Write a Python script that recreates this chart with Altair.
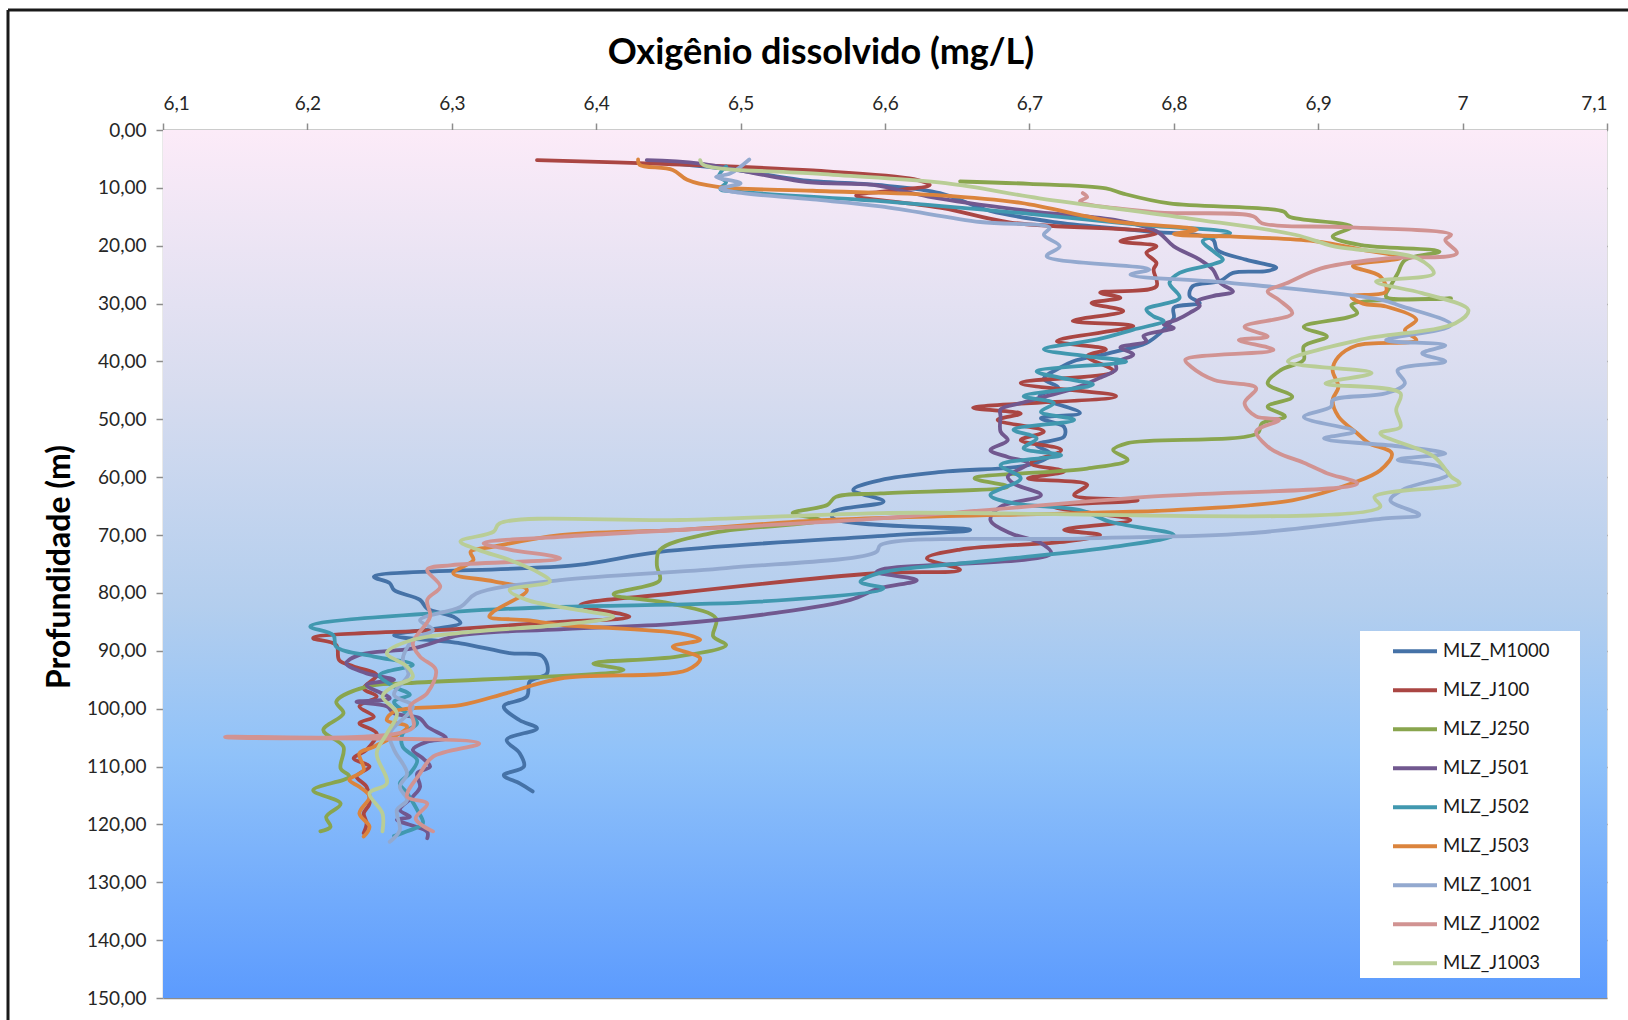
import altair as alt
import pandas as pd

# Dissolved-oxygen profiles: (depth in m, DO in mg/L), top to bottom
MLZ_M1000 = [
    (5.5, 6.440), (7.0, 6.500), (8.6, 6.541), (9.6, 6.600), (10.9, 6.638), (14.0, 6.673),
    (16.0, 6.720), (17.5, 6.781), (18.9, 6.827), (20.7, 6.830), (22.4, 6.850), (23.8, 6.871),
    (24.4, 6.864), (24.7, 6.841), (26.1, 6.832), (27.0, 6.813), (28.7, 6.811), (29.9, 6.818),
    (30.7, 6.800), (32.5, 6.800), (33.9, 6.795), (35.2, 6.790), (36.8, 6.781), (38.5, 6.756),
    (40.0, 6.730), (41.1, 6.721), (43.0, 6.710), (44.5, 6.720), (46.0, 6.707), (48.9, 6.735),
    (49.8, 6.708), (51.3, 6.724), (53.0, 6.724), (54.4, 6.705), (56.0, 6.715), (57.9, 6.699),
    (59.0, 6.643), (60.5, 6.597), (62.2, 6.578), (64.2, 6.599), (66.0, 6.564), (67.1, 6.564),
    (69.1, 6.659), (70.0, 6.606), (72.9, 6.444), (75.2, 6.386), (77.2, 6.246), (78.3, 6.257),
    (79.5, 6.260), (81.2, 6.278), (82.7, 6.283), (84.1, 6.301), (85.2, 6.306), (87.3, 6.260),
    (88.7, 6.306), (90.4, 6.340), (91.0, 6.363), (93.9, 6.366), (95.3, 6.354), (97.9, 6.352),
    (99.6, 6.336), (102.0, 6.347), (103.4, 6.359), (105.4, 6.338), (107.7, 6.347), (110.0, 6.350),
    (111.5, 6.336), (112.9, 6.347), (114.3, 6.356),
]
MLZ_J100 = [
    (5.2, 6.359), (5.9, 6.450), (7.0, 6.550), (8.5, 6.620), (9.5, 6.631), (10.6, 6.600),
    (11.3, 6.580), (13.5, 6.640), (16.0, 6.687), (17.8, 6.788), (19.2, 6.763), (20.1, 6.788),
    (21.2, 6.781), (23.0, 6.788), (24.1, 6.786), (27.0, 6.788), (28.1, 6.749), (29.0, 6.763),
    (29.9, 6.743), (31.3, 6.765), (33.0, 6.730), (33.9, 6.772), (36.5, 6.719), (37.9, 6.753),
    (39.1, 6.740), (41.7, 6.758), (43.7, 6.694), (46.0, 6.760), (48.0, 6.661), (49.0, 6.694),
    (50.1, 6.678), (52.1, 6.710), (53.6, 6.694), (55.3, 6.722), (57.6, 6.701), (59.0, 6.724),
    (60.2, 6.699), (61.3, 6.740), (63.1, 6.731), (64.0, 6.775), (65.1, 6.717), (67.4, 6.770),
    (69.1, 6.724), (70.0, 6.749), (71.1, 6.726), (72.5, 6.652), (74.0, 6.629), (76.0, 6.652),
    (76.6, 6.594), (80.1, 6.453), (82.1, 6.389), (84.1, 6.423), (85.0, 6.375), (86.3, 6.300),
    (87.8, 6.204), (89.0, 6.220), (91.6, 6.222), (92.7, 6.232), (94.2, 6.248), (96.5, 6.239),
    (97.9, 6.248), (99.6, 6.236), (101.4, 6.246), (102.5, 6.236), (104.3, 6.248), (107.1, 6.241),
    (108.6, 6.232), (110.0, 6.243), (111.7, 6.234), (113.5, 6.241), (116.4, 6.243), (118.1, 6.239),
    (119.8, 6.241), (121.5, 6.239),
]
MLZ_J250 = [
    (8.9, 6.652), (9.3, 6.700), (10.1, 6.753), (11.0, 6.765), (12.7, 6.797), (14.1, 6.876),
    (15.0, 6.880), (16.7, 6.923), (18.4, 6.910), (19.9, 6.930), (21.0, 6.984), (22.5, 6.960),
    (24.8, 6.955), (27.0, 6.950), (28.8, 6.947), (29.1, 6.992), (30.2, 6.923), (31.7, 6.927),
    (34.0, 6.890), (35.7, 6.906), (37.4, 6.890), (39.7, 6.890), (41.5, 6.874), (43.8, 6.865),
    (46.1, 6.882), (47.8, 6.865), (49.5, 6.877), (50.7, 6.861), (52.4, 6.858), (54.1, 6.768),
    (55.3, 6.758), (57.0, 6.768), (58.5, 6.740), (60.2, 6.662), (61.6, 6.685), (62.8, 6.597),
    (63.4, 6.566), (64.8, 6.560), (66.2, 6.536), (67.4, 6.555), (69.7, 6.479), (72.6, 6.444),
    (75.2, 6.442), (77.8, 6.444), (80.2, 6.412), (81.8, 6.451), (84.4, 6.483), (87.5, 6.481),
    (89.0, 6.490), (91.0, 6.456), (92.2, 6.398), (93.3, 6.419), (95.6, 6.269), (96.2, 6.241),
    (98.8, 6.220), (100.8, 6.225), (103.7, 6.211), (106.6, 6.225), (110.3, 6.223), (111.7, 6.229),
    (114.1, 6.204), (116.4, 6.223), (118.7, 6.213), (120.4, 6.216), (121.2, 6.209),
]
MLZ_J501 = [
    (5.2, 6.435), (5.8, 6.472), (9.0, 6.546), (9.5, 6.592), (11.5, 6.630), (14.0, 6.700),
    (15.5, 6.758), (17.5, 6.788), (20.1, 6.800), (22.4, 6.818), (24.1, 6.827), (26.4, 6.832),
    (27.9, 6.841), (28.7, 6.827), (29.6, 6.816), (30.4, 6.818), (31.6, 6.811), (32.8, 6.802),
    (33.6, 6.793), (34.2, 6.800), (35.6, 6.779), (36.5, 6.781), (37.6, 6.763), (38.8, 6.772),
    (40.2, 6.760), (41.4, 6.760), (42.8, 6.749), (44.3, 6.735), (46.0, 6.712), (47.2, 6.694),
    (48.3, 6.680), (49.5, 6.680), (52.1, 6.680), (53.6, 6.685), (55.3, 6.673), (56.5, 6.685),
    (57.6, 6.699), (59.9, 6.685), (61.1, 6.689), (63.1, 6.708), (65.1, 6.680), (67.4, 6.673),
    (69.7, 6.687), (71.4, 6.708), (73.2, 6.715), (75.8, 6.600), (76.4, 6.594), (77.8, 6.622),
    (79.2, 6.596), (81.2, 6.576), (83.5, 6.523), (85.3, 6.456), (86.3, 6.375), (87.3, 6.306),
    (89.6, 6.273), (90.7, 6.236), (92.2, 6.227), (93.9, 6.241), (95.0, 6.260), (95.9, 6.241),
    (98.2, 6.257), (98.8, 6.234), (99.6, 6.255), (100.8, 6.260), (101.7, 6.278), (103.1, 6.283),
    (105.1, 6.296), (105.7, 6.283), (107.1, 6.273), (108.6, 6.280), (110.0, 6.285), (111.2, 6.276),
    (113.5, 6.278), (115.2, 6.273), (117.5, 6.264), (118.7, 6.271), (119.2, 6.262), (121.3, 6.283),
    (122.4, 6.283),
]
MLZ_J502 = [
    (6.3, 6.490), (8.0, 6.485), (9.0, 6.490), (10.2, 6.486), (10.7, 6.500), (12.3, 6.597),
    (14.5, 6.700), (16.5, 6.780), (17.8, 6.839), (19.2, 6.820), (20.9, 6.827), (22.4, 6.834),
    (23.2, 6.827), (24.7, 6.804), (26.4, 6.797), (29.0, 6.804), (31.0, 6.781), (32.2, 6.786),
    (33.0, 6.793), (34.5, 6.772), (36.2, 6.747), (37.9, 6.710), (39.1, 6.740), (40.0, 6.767),
    (41.7, 6.705), (42.8, 6.721), (44.0, 6.744), (46.0, 6.696), (47.2, 6.717), (48.7, 6.708),
    (50.1, 6.731), (51.8, 6.689), (53.3, 6.705), (55.0, 6.696), (56.2, 6.722), (57.9, 6.680),
    (60.2, 6.694), (63.1, 6.673), (64.5, 6.689), (65.7, 6.735), (67.7, 6.756), (70.0, 6.800),
    (72.0, 6.759), (74.0, 6.689), (74.9, 6.652), (76.5, 6.597), (78.1, 6.583), (79.2, 6.599),
    (81.5, 6.513), (82.4, 6.375), (83.2, 6.306), (85.8, 6.202), (87.3, 6.218), (89.3, 6.220),
    (91.0, 6.246), (92.4, 6.273), (94.2, 6.250), (96.2, 6.260), (97.6, 6.271), (98.8, 6.260),
    (102.5, 6.276), (104.3, 6.266), (106.6, 6.266), (108.9, 6.276), (111.2, 6.271), (112.9, 6.264),
    (114.6, 6.269), (117.5, 6.276), (119.8, 6.280), (121.2, 6.269), (122.0, 6.260),
]
MLZ_J503 = [
    (5.1, 6.429), (6.0, 6.430), (6.9, 6.453), (8.6, 6.463), (9.8, 6.483), (10.5, 6.550),
    (11.3, 6.638), (12.6, 6.694), (15.8, 6.758), (17.2, 6.816), (18.0, 6.800), (18.4, 6.839),
    (19.2, 6.897), (20.7, 6.931), (22.1, 6.957), (23.5, 6.924), (25.3, 6.943), (27.9, 6.947),
    (28.8, 6.923), (30.0, 6.931), (30.5, 6.947), (32.8, 6.968), (34.6, 6.960), (36.3, 6.968),
    (37.2, 6.927), (39.2, 6.914), (41.5, 6.910), (44.4, 6.914), (46.7, 6.910), (49.5, 6.914),
    (52.4, 6.927), (54.1, 6.935), (55.9, 6.951), (58.8, 6.943), (61.1, 6.923), (64.0, 6.882),
    (65.7, 6.800), (66.2, 6.735), (67.4, 6.560), (69.1, 6.458), (70.0, 6.375), (72.0, 6.329),
    (72.9, 6.313), (74.3, 6.315), (76.6, 6.301), (78.0, 6.329), (79.5, 6.352), (83.2, 6.329),
    (84.1, 6.326), (84.7, 6.352), (85.5, 6.375), (87.0, 6.458), (88.1, 6.472), (89.3, 6.453),
    (91.3, 6.472), (93.3, 6.463), (94.8, 6.375), (97.3, 6.338), (99.4, 6.306), (100.5, 6.260),
    (102.0, 6.255), (103.1, 6.269), (106.6, 6.246), (107.7, 6.236), (110.6, 6.239), (112.3, 6.229),
    (113.5, 6.236), (115.2, 6.243), (118.1, 6.236), (120.4, 6.243), (122.1, 6.239),
]
MLZ_1001 = [
    (5.1, 6.506), (7.5, 6.493), (8.1, 6.483), (9.2, 6.500), (10.1, 6.486), (10.7, 6.495),
    (12.0, 6.550), (13.2, 6.597), (15.9, 6.666), (16.9, 6.714), (18.1, 6.710), (20.1, 6.721),
    (21.8, 6.712), (24.1, 6.783), (25.0, 6.770), (26.4, 6.839), (29.3, 6.943), (30.4, 6.957),
    (33.7, 6.992), (36.3, 6.947), (37.2, 6.988), (38.6, 6.972), (40.0, 6.988), (41.5, 6.955),
    (43.8, 6.960), (45.5, 6.947), (46.7, 6.910), (47.8, 6.909), (49.6, 6.890), (52.1, 6.925),
    (53.3, 6.904), (54.7, 6.957), (55.9, 6.988), (57.0, 6.955), (58.2, 6.984), (59.5, 6.990),
    (62.0, 6.960), (64.0, 6.950), (66.5, 6.970), (67.1, 6.946), (69.7, 6.851), (70.6, 6.735),
    (71.7, 6.597), (72.9, 6.594), (75.7, 6.490), (77.8, 6.375), (80.1, 6.317), (82.4, 6.306),
    (84.7, 6.278), (86.4, 6.287), (88.1, 6.273), (91.6, 6.266), (94.0, 6.270), (97.6, 6.260),
    (99.6, 6.273), (104.3, 6.257), (107.1, 6.260), (111.2, 6.269), (113.5, 6.264), (115.8, 6.269),
    (117.5, 6.262), (121.0, 6.264), (123.0, 6.257),
]
MLZ_J1002 = [
    (10.9, 6.737), (11.6, 6.740), (12.3, 6.735), (14.2, 6.786), (14.9, 6.855), (16.1, 6.861),
    (16.8, 6.920), (18.1, 6.992), (19.0, 6.988), (21.3, 6.996), (22.2, 6.947), (23.9, 6.902),
    (26.5, 6.878), (27.9, 6.865), (29.4, 6.873), (31.7, 6.882), (34.0, 6.849), (35.7, 6.865),
    (36.3, 6.845), (38.0, 6.869), (39.7, 6.808), (40.9, 6.812), (43.2, 6.828), (44.6, 6.857),
    (47.2, 6.849), (49.5, 6.857), (50.1, 6.873), (52.1, 6.857), (54.7, 6.865), (55.9, 6.873),
    (57.5, 6.890), (59.3, 6.906), (61.1, 6.927), (63.4, 6.781), (67.1, 6.597), (70.3, 6.375),
    (71.4, 6.322), (72.5, 6.340), (74.0, 6.375), (75.2, 6.300), (76.0, 6.283), (78.9, 6.292),
    (81.2, 6.283), (84.1, 6.285), (88.7, 6.273), (91.0, 6.278), (93.3, 6.289), (97.3, 6.283),
    (99.6, 6.271), (103.3, 6.273), (104.9, 6.143), (106.0, 6.319), (108.3, 6.287), (111.2, 6.278),
    (115.2, 6.269), (116.4, 6.283), (119.0, 6.275), (121.2, 6.287),
]
MLZ_J1003 = [
    (5.2, 6.472), (6.0, 6.474), (7.6, 6.555), (9.2, 6.642), (11.8, 6.707), (15.3, 6.811),
    (18.1, 6.884), (20.1, 6.911), (22.2, 6.969), (24.8, 6.980), (26.2, 6.940), (28.2, 6.972),
    (31.1, 7.004), (33.4, 6.995), (36.3, 6.928), (40.0, 6.879), (42.0, 6.937), (43.8, 6.905),
    (45.5, 6.957), (48.4, 6.954), (51.3, 6.957), (52.4, 6.943), (56.4, 6.980), (59.9, 6.992),
    (61.1, 6.998), (63.4, 6.939), (65.1, 6.943), (66.2, 6.597), (67.4, 6.458), (68.0, 6.333),
    (69.4, 6.329), (71.1, 6.306), (72.6, 6.319), (74.3, 6.340), (76.6, 6.361), (78.0, 6.368),
    (79.5, 6.340), (81.2, 6.352), (82.9, 6.386), (84.1, 6.412), (85.5, 6.375), (86.7, 6.315),
    (88.1, 6.273), (90.4, 6.255), (92.7, 6.269), (94.5, 6.273), (96.2, 6.259), (97.9, 6.252),
    (100.8, 6.262), (104.3, 6.255), (107.7, 6.248), (112.9, 6.255), (114.6, 6.243), (118.1, 6.252),
    (121.2, 6.252),
]

SERIES = {
    "MLZ_M1000": MLZ_M1000, "MLZ_J100": MLZ_J100, "MLZ_J250": MLZ_J250,
    "MLZ_J501": MLZ_J501, "MLZ_J502": MLZ_J502, "MLZ_J503": MLZ_J503,
    "MLZ_1001": MLZ_1001, "MLZ_J1002": MLZ_J1002, "MLZ_J1003": MLZ_J1003,
}
COLORS = ["#4572A7", "#AA4643", "#89A54E", "#71588F", "#4198AF",
          "#DB843D", "#93A9CF", "#D19392", "#B9CD96"]
X_TICKS = [6.1, 6.2, 6.3, 6.4, 6.5, 6.6, 6.7, 6.8, 6.9, 7.0, 7.1]
Y_TICKS = list(range(0, 151, 10))

rows = []
for name, pts in SERIES.items():
    for i, (depth, od) in enumerate(pts):
        rows.append({"serie": name, "seq": i, "prof": depth, "od": od})
df = pd.DataFrame(rows)

W, H = 1444, 868
FONT = "Lato"
LABEL_SIZE = 19

x_scale = alt.Scale(domain=[6.1, 7.1], nice=False, zero=False)
y_scale = alt.Scale(domain=[0, 150], reverse=True, nice=False)

# plot-area background gradient (pink at the surface, blue at depth)
background = alt.Chart(alt.Data(values=[{}])).mark_rect(
    fill=alt.Gradient(
        gradient="linear",
        stops=[
            alt.GradientStop(color="#FCEBF8", offset=0.0),
            alt.GradientStop(color="#D7DCEF", offset=0.3),
            alt.GradientStop(color="#B3CEEE", offset=0.55),
            alt.GradientStop(color="#90C2F9", offset=0.72),
            alt.GradientStop(color="#5C9BFE", offset=1.0),
        ],
        x1=0, x2=0, y1=0, y2=1,
    )
).encode(x=alt.value(0), x2=alt.value(W), y=alt.value(0), y2=alt.value(H))

lines = alt.Chart(df).mark_line(
    strokeWidth=3.8, interpolate="catmull-rom", strokeCap="round", strokeJoin="round"
).encode(
    x=alt.X(
        "od:Q", scale=x_scale,
        axis=alt.Axis(
            orient="top", values=X_TICKS, title=None, grid=False,
            labelExpr="replace(format(datum.value, '.1~f'), '.', ',')",
            labelFont=FONT, labelFontSize=LABEL_SIZE, labelColor="#262626",
            tickSize=7, labelPadding=10, domainColor="#8C8C8C", tickColor="#8C8C8C",
            domainWidth=1.5, tickWidth=1.5,
        ),
    ),
    y=alt.Y(
        "prof:Q", scale=y_scale,
        axis=alt.Axis(
            orient="left", values=Y_TICKS, title=None, grid=True,
            gridColor="#8C8C8C", gridWidth=1.5, gridOpacity=1,
            labelExpr="replace(format(datum.value, '.2f'), '.', ',')",
            labelFont=FONT, labelFontSize=LABEL_SIZE, labelColor="#262626",
            tickSize=7, labelPadding=10, domainColor="#A6A6A6", tickColor="#8C8C8C",
            domainWidth=1.5, tickWidth=1.5,
        ),
    ),
    color=alt.Color(
        "serie:N",
        scale=alt.Scale(domain=list(SERIES.keys()), range=COLORS),
        sort=list(SERIES.keys()),
        legend=alt.Legend(
            title=None, orient="none", legendX=1228, legendY=502,
            symbolType="stroke", symbolSize=1936, symbolStrokeWidth=4,
            labelFont=FONT, labelFontSize=18.5, labelColor="#1A1A1A", labelOffset=4,
            rowPadding=0, clipHeight=38.6, padding=0,
        ),
    ),
    order=alt.Order("seq:Q"),
    detail="serie:N",
)

# white legend panel
legend_box = alt.Chart(alt.Data(values=[{}])).mark_rect(fill="white").encode(
    x=alt.value(1197), x2=alt.value(1417), y=alt.value(501), y2=alt.value(848)
)

# outer chart frame (top and left edges)
frame_top = alt.Chart(alt.Data(values=[{}])).mark_rule(color="#1A1A1A", strokeWidth=3).encode(
    x=alt.value(-155), x2=alt.value(1470), y=alt.value(-120)
)
frame_left = alt.Chart(alt.Data(values=[{}])).mark_rule(color="#1A1A1A", strokeWidth=3).encode(
    x=alt.value(-155), y=alt.value(-120), y2=alt.value(895)
)

title = alt.Chart(alt.Data(values=[{"t": "Oxigênio dissolvido (mg/L)"}])).mark_text(
    font=FONT, fontSize=36, fontWeight="bold", color="#000000", baseline="middle", align="center"
).encode(x=alt.value(658), y=alt.value(-77), text="t:N")

y_title = alt.Chart(alt.Data(values=[{"t": "Profundidade (m)"}])).mark_text(
    font=FONT, fontSize=32, fontWeight="bold", color="#000000", baseline="middle",
    align="center", angle=270
).encode(x=alt.value(-103), y=alt.value(437), text="t:N")

chart = alt.layer(
    background, lines, legend_box, frame_top, frame_left, title, y_title
).properties(
    width=W, height=H,
    autosize=alt.AutoSizeParams(type="none"),
    padding={"left": 163, "top": 130, "right": 21, "bottom": 22},
).configure_view(stroke=None).configure(background="white")

chart.save("out.html", embed_options={"renderer": "svg", "actions": False})
